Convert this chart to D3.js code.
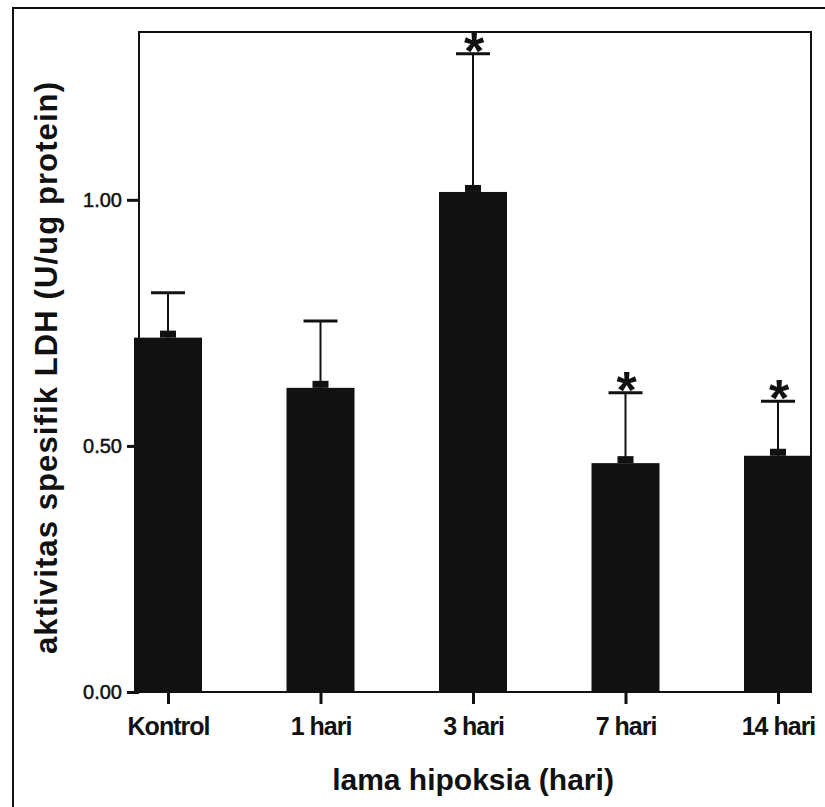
<!DOCTYPE html>
<html>
<head>
<meta charset="utf-8">
<script src="https://cdn.jsdelivr.net/npm/d3@7"></script>
<style>
  body { margin: 0; background: #fff; }
  svg { display: block; }
  text { font-family: "Liberation Sans", Arial, sans-serif; fill: #111; }
</style>
</head>
<body>
<svg id="chart" width="825" height="807"></svg>
<script>
// data
var groups = ["Kontrol", "1 hari", "3 hari", "7 hari", "14 hari"];
var means = [0.720, 0.618, 1.016, 0.465, 0.480];
var errs = [0.091, 0.136, 0.281, 0.143, 0.111];
var starred = [false, false, true, true, true];
var yTicks = [0, 0.5, 1.0];

var Chart = {
    init(){
        var svg = d3.select("#chart");
        var margin = {left: 139, top: 32, right: 14, bottom: 115};
        var w = 825 - margin.left - margin.right,
            h = 807 - margin.top - margin.bottom;

        // outer frame (top and left edges only visible)
        svg.append("path")
            .attr("d", "M13,807 L13,8 L825,8")
            .attr("fill", "none").attr("stroke", "#111").attr("stroke-width", 2);

        var g = svg.append("g").attr("transform", "translate(" + margin.left + "," + margin.top + ")");

        var x = d3.scalePoint().domain(groups).range([29, 639]);
        var y = d3.scaleLinear().domain([0, 1.341]).range([h, 0]);
        var bw = 68;

        var rows = groups.map(function(d, i){
            return {name: d, mean: means[i], err: errs[i], star: starred[i]};
        });

        // bars
        g.selectAll("rect.bar").data(rows).enter().append("rect")
            .attr("class", "bar")
            .attr("x", function(d){ return x(d.name) - bw / 2; })
            .attr("y", function(d){ return y(d.mean); })
            .attr("width", bw)
            .attr("height", function(d){ return h - y(d.mean); })
            .attr("fill", "#111");

        // little mean marker on top of each bar
        g.selectAll("rect.mark").data(rows).enter().append("rect")
            .attr("x", function(d){ return x(d.name) - 8; })
            .attr("y", function(d){ return y(d.mean) - 7; })
            .attr("width", 16).attr("height", 7)
            .attr("fill", "#111");

        // error bars (upper only)
        var eb = g.selectAll("g.err").data(rows).enter().append("g")
            .attr("stroke", "#111");
        eb.append("line")
            .attr("x1", function(d){ return x(d.name); })
            .attr("x2", function(d){ return x(d.name); })
            .attr("y1", function(d){ return y(d.mean); })
            .attr("y2", function(d){ return y(d.mean + d.err); })
            .attr("stroke-width", 2);
        eb.append("line")
            .attr("x1", function(d){ return x(d.name) - 17; })
            .attr("x2", function(d){ return x(d.name) + 17; })
            .attr("y1", function(d){ return y(d.mean + d.err); })
            .attr("y2", function(d){ return y(d.mean + d.err); })
            .attr("stroke-width", 3);

        // significance asterisks
        g.selectAll("text.star").data(rows.filter(function(d){ return d.star; })).enter().append("text")
            .attr("x", function(d){ return x(d.name) + 1; })
            .attr("y", function(d){ return y(d.mean + d.err) + 15; })
            .attr("text-anchor", "middle")
            .attr("font-size", 52).attr("font-weight", "bold")
            .text("*");

        // plot frame
        g.append("rect")
            .attr("width", w).attr("height", h)
            .attr("fill", "none").attr("stroke", "#111").attr("stroke-width", 2);

        // y axis
        var yAxis = g.append("g")
            .call(d3.axisLeft(y).tickValues(yTicks).tickFormat(d3.format(".2f")).tickSize(12).tickPadding(5));
        yAxis.select(".domain").remove();
        yAxis.selectAll("line").attr("stroke", "#111").attr("stroke-width", 3);
        yAxis.selectAll("text").attr("font-size", 20).attr("fill", "#111")
            .attr("stroke", "#111").attr("stroke-width", 0.5);

        // x axis
        var xAxis = g.append("g")
            .attr("transform", "translate(0," + h + ")")
            .call(d3.axisBottom(x).tickSize(12).tickPadding(13));
        xAxis.select(".domain").remove();
        xAxis.selectAll("line").attr("stroke", "#111").attr("stroke-width", 3);
        xAxis.selectAll("text").attr("font-size", 25).attr("font-weight", "bold")
            .attr("letter-spacing", "-1px").attr("fill", "#111");

        // axis titles
        svg.append("text")
            .attr("x", margin.left + 334).attr("y", 790)
            .attr("text-anchor", "middle")
            .attr("font-size", 30).attr("font-weight", "bold")
            .text("lama hipoksia (hari)");

        svg.append("text")
            .attr("transform", "translate(57,368) rotate(-90)")
            .attr("text-anchor", "middle")
            .attr("font-size", 31).attr("font-weight", "bold")
            .attr("textLength", 572).attr("lengthAdjust", "spacing")
            .text("aktivitas spesifik LDH (U/ug protein)");
    }
};
Chart.init();
</script>
</body>
</html>
